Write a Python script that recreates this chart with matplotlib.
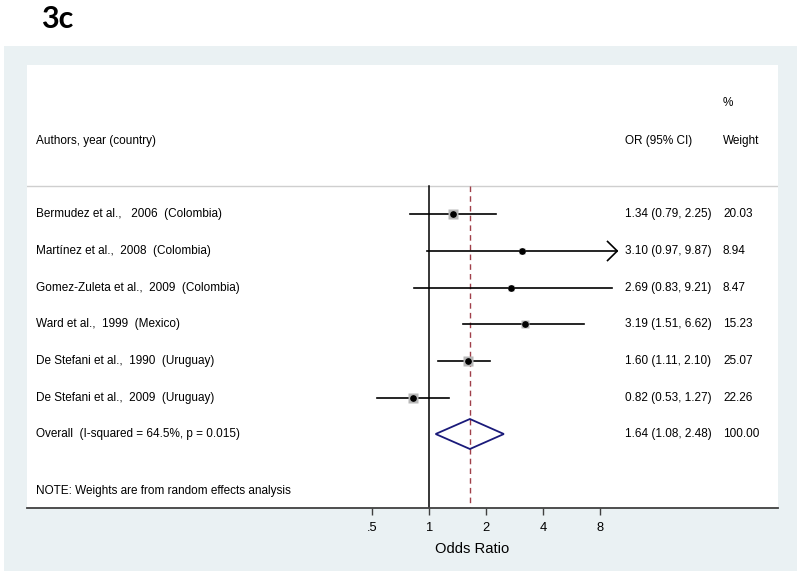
import numpy as np
import matplotlib
matplotlib.use("Agg")
import matplotlib.pyplot as plt
from matplotlib.patches import Rectangle, Polygon

# ---- data ----
studies = ["Bermudez et al.,   2006  (Colombia)",
           "Martínez et al.,  2008  (Colombia)",
           "Gomez-Zuleta et al.,  2009  (Colombia)",
           "Ward et al.,  1999  (Mexico)",
           "De Stefani et al.,  1990  (Uruguay)",
           "De Stefani et al.,  2009  (Uruguay)"]
or_est = [1.34, 3.10, 2.69, 3.19, 1.60, 0.82]
ci_low = [0.79, 0.97, 0.83, 1.51, 1.11, 0.53]
ci_high = [2.25, 9.87, 9.21, 6.62, 2.10, 1.27]
weights = [20.03, 8.94, 8.47, 15.23, 25.07, 22.26]
overall_label = "Overall  (I-squared = 64.5%, p = 0.015)"
overall = [1.64, 1.08, 2.48]
overall_weight = 100.00
tick_vals = [0.5, 1, 2, 4, 8]
tick_labels = [".5", "1", "2", "4", "8"]
arrow_cut = 9.5  # CI beyond this drawn with arrow

W, H = 800, 575
fig = plt.figure(figsize=(W / 100, H / 100), dpi=100)
fig.patch.set_facecolor("white")

def fx(px):
    return px / W

def fy(py):
    return 1 - py / H

FONT = ["Liberation Sans", "DejaVu Sans"]

# background axes with outer panel
bg = fig.add_axes([0, 0, 1, 1], zorder=-10)
bg.set_xlim(0, W)
bg.set_ylim(H, 0)
bg.axis("off")
bg.add_patch(Rectangle((4, 46), 793, 525, facecolor="#eaf1f3", edgecolor="none"))
bg.text(41, 28, "3c", fontsize=22, fontweight="bold",
        family=["Lato", "DejaVu Sans"], va="baseline", ha="left")

# main axes: white plot region
ax_l, ax_r, ax_t, ax_b = 27, 778, 65, 508
ax = fig.add_axes([fx(ax_l), fy(ax_b), fx(ax_r) - fx(ax_l), fy(ax_t) - fy(ax_b)])
ax.set_facecolor("white")

px_per = 56.9
x0 = 429.3
xmin = (ax_l - x0) / px_per
xmax = (ax_r - x0) / px_per
ax.set_xlim(xmin, xmax)
ax.set_ylim(ax_b, ax_t)

for s in ["top", "right", "left"]:
    ax.spines[s].set_visible(False)
ax.spines["bottom"].set_color("#404040")
ax.spines["bottom"].set_linewidth(1.3)
ax.set_yticks([])
ax.set_xticks(np.log2(tick_vals))
ax.set_xticklabels(tick_labels, family=FONT, fontsize=9.3)
ax.tick_params(axis="x", direction="out", length=5, width=1, color="#404040", pad=5)
ax.set_xlabel("Odds Ratio", family=FONT, fontsize=10.6)
ax.xaxis.set_label_coords((np.log2(1.64) - xmin) / (xmax - xmin) + 0.003, -0.076)

lbl_x = 36
or_x = 625
wt_x = 723
fs = 8.5
hdr_y = 141

def tx(px):
    return xmin + (px - ax_l) / px_per

ax.text(tx(lbl_x), hdr_y, "Authors, year (country)", family=FONT, fontsize=fs, va="center")
ax.text(tx(or_x), hdr_y, "OR (95% CI)", family=FONT, fontsize=fs, va="center")
ax.text(tx(wt_x), hdr_y, "Weight", family=FONT, fontsize=fs, va="center")
ax.text(tx(wt_x), 103, "%", family=FONT, fontsize=fs, va="center")
ax.plot([xmin, xmax], [186, 186], color="#cfcfcf", lw=1)

rows_y = [214, 251, 288, 324, 361, 398]
overall_y = 434

# reference lines
ax.plot([0, 0], [186, ax_b], color="black", lw=1.1, zorder=2)
ax.plot([np.log2(overall[0])] * 2, [186, ax_b], color="#a0404a", lw=1,
        ls=(0, (4, 3)), zorder=2)

for name, e, lo, hi, w, y in zip(studies, or_est, ci_low, ci_high, weights, rows_y):
    ax.plot([np.log2(lo), np.log2(hi)], [y, y], color="black", lw=1.2, zorder=3)
    if hi > arrow_cut:
        tip = np.log2(hi)
        ax.plot([tip - 0.17, tip, tip - 0.17], [y - 9.5, y, y + 9.5], color="black",
                lw=1.2, zorder=3)
    side = 2.1 * np.sqrt(w) * 0.72
    ax.plot(np.log2(e), y, marker="s", ms=side, color="#b8b8b8", mec="none", zorder=4)
    ax.plot(np.log2(e), y, marker="o", ms=3.8, color="black", zorder=5)
    ax.text(tx(lbl_x), y, name, family=FONT, fontsize=fs, va="center")
    ax.text(tx(or_x), y, f"{e:.2f} ({lo:.2f}, {hi:.2f})", family=FONT, fontsize=fs, va="center")
    ax.text(tx(wt_x), y, f"{w:.2f}", family=FONT, fontsize=fs, va="center")

# overall diamond
oe, olo, ohi = overall
dia = Polygon([[np.log2(olo), overall_y], [np.log2(oe), overall_y - 15],
               [np.log2(ohi), overall_y], [np.log2(oe), overall_y + 15]],
              closed=True, facecolor="none", edgecolor="#1a1a7a", lw=1.3, zorder=4)
ax.add_patch(dia)
ax.text(tx(lbl_x), overall_y, overall_label, family=FONT, fontsize=fs, va="center")
ax.text(tx(or_x), overall_y, f"{oe:.2f} ({olo:.2f}, {ohi:.2f})", family=FONT, fontsize=fs, va="center")
ax.text(tx(wt_x), overall_y, f"{overall_weight:.2f}", family=FONT, fontsize=fs, va="center")

ax.text(tx(lbl_x), 491, "NOTE: Weights are from random effects analysis",
        family=FONT, fontsize=fs, va="center")

fig.savefig("out.png", dpi=100, facecolor="white")
